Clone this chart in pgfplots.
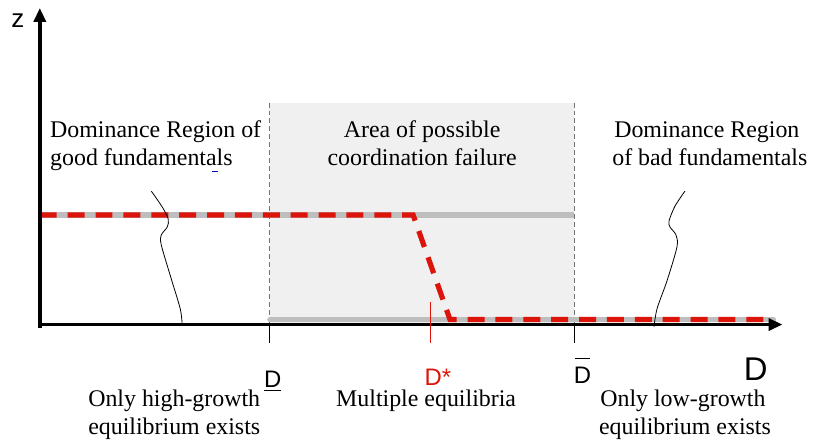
\documentclass[border=0pt]{standalone}
\usepackage{pgfplots}
\pgfplotsset{compat=1.18}
\usepackage{fontspec}
\setmainfont{Liberation Serif}
\setsansfont{Liberation Sans}
\usetikzlibrary{arrows.meta}
\definecolor{eqred}{RGB}{220,20,10}
\definecolor{lgray}{RGB}{190,190,190}
\begin{document}
\begin{tikzpicture}
\begin{axis}[scale only axis, width=407pt, height=221.5pt,
  xmin=0, xmax=814, ymin=0, ymax=443, y dir=reverse,
  hide axis, clip=false]
% frame for bounding box
\addplot[draw=none, forget plot] coordinates {(0,0) (814,443)};
% shaded region
\fill[black!6] (axis cs:271,103) rectangle (axis cs:577,325);
\addplot[black!55, thin, dash pattern=on 2.5pt off 1.5pt] coordinates {(271,103) (271,326)};
\addplot[black!55, thin, dash pattern=on 2.5pt off 1.5pt] coordinates {(577,103) (577,326)};
% gray equilibrium lines
\addplot[lgray, line width=2.6pt] coordinates {(40,216) (577,216)};
\addplot[lgray, line width=2.6pt, line cap=round] coordinates {(271,321) (777,321)};
% red dashed selected equilibrium
\addplot[eqred, line width=2.6pt, dash pattern=on 8.5pt off 5.5pt] coordinates {(40,216) (415,216) (452,321) (770,321)};
% axes
\addplot[black, line width=1.7pt, -{Triangle[length=7pt,width=6pt]}] coordinates {(40,329) (40,8)};
\addplot[black, line width=1.7pt, -{Triangle[length=7pt,width=6pt]}] coordinates {(38,326) (786,326)};
% ticks
\addplot[black, thin] coordinates {(271,326) (271,345)};
\addplot[eqred, thin] coordinates {(432,303) (432,345)};
\addplot[black, thin] coordinates {(577,326) (577,345)};
% squiggles
\addplot[black, thin, smooth] coordinates {(152,192) (163,208) (169,220) (168,228) (162,236) (162,246) (172,280) (181,310) (183,326)};
\addplot[black, thin, smooth] coordinates {(688,192) (678,207) (672,222) (673,228) (679,236) (680,248) (670,282) (660,310) (657,328)};
% tiny blue mark
\addplot[blue!70!black, thin] coordinates {(213,172) (219,172)};
% overline for D bar
\addplot[black, thin] coordinates {(578,360) (593,360)};
% texts
\node[anchor=base west, inner sep=0pt, font=\fontsize{12}{14}\selectfont] at (axis cs:50,138) {Dominance Region of};
\node[anchor=base west, inner sep=0pt, font=\fontsize{12}{14}\selectfont] at (axis cs:50,166) {good fundamentals};
\node[anchor=base, font=\fontsize{12}{14}\selectfont] at (axis cs:424,138) {Area of possible};
\node[anchor=base, font=\fontsize{12}{14}\selectfont] at (axis cs:424,166) {coordination failure};
\node[anchor=base, font=\fontsize{12}{14}\selectfont] at (axis cs:710,138) {Dominance Region};
\node[anchor=base, font=\fontsize{12}{14}\selectfont] at (axis cs:713,166) {of bad fundamentals};
\node[anchor=base, font=\fontsize{12}{14}\selectfont] at (axis cs:175,408) {Only high-growth};
\node[anchor=base, font=\fontsize{12}{14}\selectfont] at (axis cs:175,436) {equilibrium exists};
\node[anchor=base, font=\fontsize{12}{14}\selectfont] at (axis cs:428,408) {Multiple equilibria};
\node[anchor=base, font=\fontsize{12}{14}\selectfont] at (axis cs:686,408) {Only low-growth};
\node[anchor=base, font=\fontsize{12}{14}\selectfont] at (axis cs:688,436) {equilibrium exists};
\node[anchor=base, font=\sffamily\fontsize{12}{14}\selectfont] at (axis cs:274,389) {\underline{D}};
\node[anchor=base west, font=\sffamily\fontsize{12}{14}\selectfont, text=eqred, inner sep=0pt] at (axis cs:426,387) {D*};
\node[anchor=base, font=\sffamily\fontsize{12}{14}\selectfont] at (axis cs:585,385) {D};
\node[anchor=base, font=\sffamily\fontsize{16.5}{18}\selectfont] at (axis cs:759,382) {D};
\node[anchor=base, font=\sffamily\fontsize{13}{14}\selectfont] at (axis cs:18,28) {z};
\end{axis}
\end{tikzpicture}
\end{document}
